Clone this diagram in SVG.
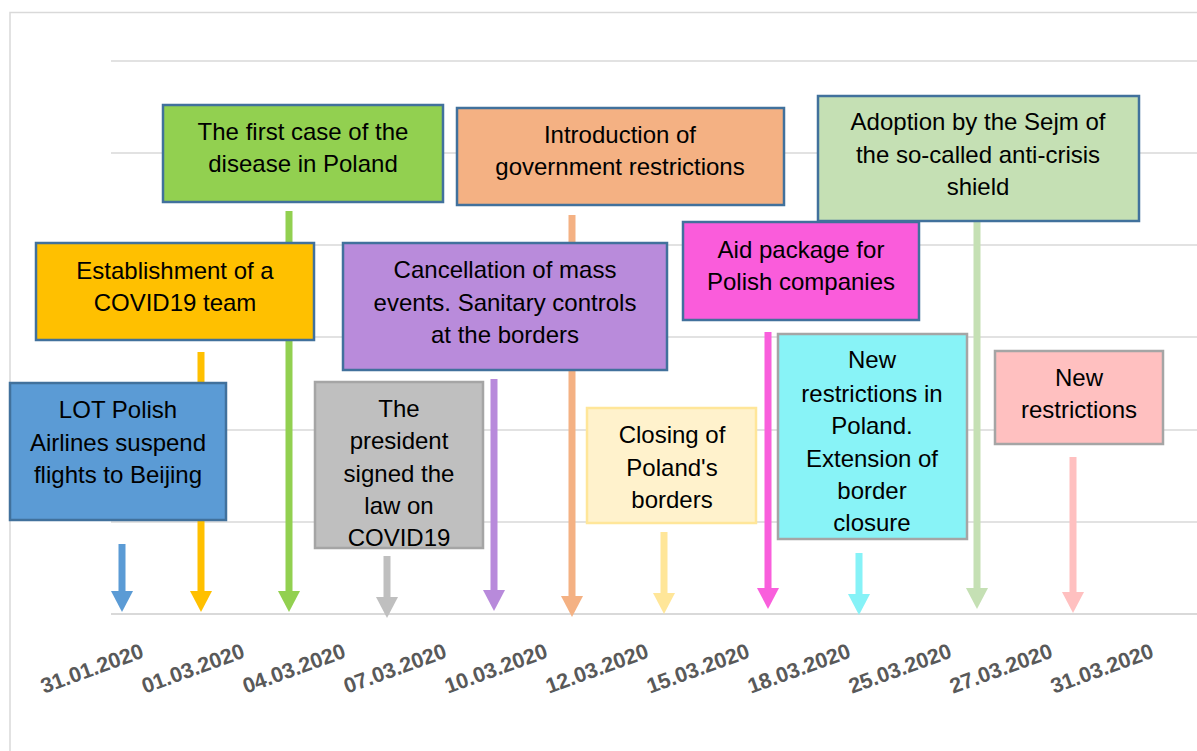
<svg xmlns="http://www.w3.org/2000/svg" width="1197" height="751" viewBox="0 0 1197 751">
<style>
.grid{stroke:#D9D9D9;stroke-width:1.5;fill:none}
.box{stroke:#41719C;stroke-width:2.5}
.gbox{stroke:#A5A5A5;stroke-width:2.5}
.t{font-family:"Liberation Sans",Arial,sans-serif;font-size:24px;fill:#000;text-anchor:middle}
.lbl{font-family:"Liberation Sans",Arial,sans-serif;font-size:21.5px;font-weight:bold;fill:#595959;text-anchor:end}
</style>
<rect width="1197" height="751" fill="#fff"/>
<rect x="10" y="12.5" width="1300" height="800" class="grid"/>
<g id="gridlines">
<line x1="111" y1="61" x2="1197" y2="61" class="grid"/>
<line x1="111" y1="153" x2="1197" y2="153" class="grid"/>
<line x1="111" y1="245" x2="1197" y2="245" class="grid"/>
<line x1="111" y1="337" x2="1197" y2="337" class="grid"/>
<line x1="111" y1="430" x2="1197" y2="430" class="grid"/>
<line x1="111" y1="522" x2="1197" y2="522" class="grid"/>
<line x1="111" y1="614" x2="1197" y2="614" class="grid" style="stroke-width:2"/>
</g>
<g id="connectors">
<g fill="#5B9BD5"><rect x="118.5" y="544" width="7" height="48"/><polygon points="111,591 133,591 122,612"/></g>
<g fill="#FFC000"><rect x="197.5" y="352" width="7" height="240"/><polygon points="190,591 212,591 201,612"/></g>
<g fill="#92D050"><rect x="285.5" y="211" width="7" height="381"/><polygon points="278,591 300,591 289,612"/></g>
<g fill="#BFBFBF"><rect x="383.5" y="556" width="7" height="42"/><polygon points="376,597 398,597 387,618"/></g>
<g fill="#B88ADB"><rect x="490.5" y="379" width="7" height="212"/><polygon points="483,590 505,590 494,611"/></g>
<g fill="#F4B183"><rect x="568.5" y="215" width="7" height="382"/><polygon points="561,596 583,596 572,617"/></g>
<g fill="#FFE699"><rect x="660.5" y="532" width="7" height="62"/><polygon points="653,593 675,593 664,614"/></g>
<g fill="#F95FDC"><rect x="764.5" y="332" width="7" height="257"/><polygon points="757,588 779,588 768,609"/></g>
<g fill="#86F2F7"><rect x="855.5" y="553" width="7" height="42"/><polygon points="848,594 870,594 859,615"/></g>
<g fill="#C5E0B4"><rect x="973.5" y="221" width="7" height="368"/><polygon points="966,588 988,588 977,609"/></g>
<g fill="#FFC0C0"><rect x="1069.5" y="457" width="7" height="136"/><polygon points="1062,592 1084,592 1073,613"/></g>
</g>
<g id="n-lot"><rect x="10" y="383" width="216" height="137" fill="#5B9BD5" class="box"/>
<text class="t" x="118" y="418">LOT Polish</text><text class="t" x="118" y="451">Airlines suspend</text><text class="t" x="118" y="483">flights to Beijing</text></g>
<g id="n-team"><rect x="36" y="243" width="278" height="97" fill="#FFC000" class="box"/>
<text class="t" x="175" y="279">Establishment of a</text><text class="t" x="175" y="311">COVID19 team</text></g>
<g id="n-first"><rect x="163" y="105" width="280" height="97" fill="#92D050" class="box"/>
<text class="t" x="303" y="140">The first case of the</text><text class="t" x="303" y="172">disease in Poland</text></g>
<g id="n-president"><rect x="315" y="382" width="168" height="166" fill="#BFBFBF" class="gbox"/>
<text class="t" x="399" y="417">The</text><text class="t" x="399" y="449">president</text><text class="t" x="399" y="482">signed the</text><text class="t" x="399" y="514">law on</text><text class="t" x="399" y="546">COVID19</text></g>
<g id="n-mass"><rect x="343" y="243" width="324" height="127" fill="#B98BDB" class="box"/>
<text class="t" x="505" y="278">Cancellation of mass</text><text class="t" x="505" y="311">events. Sanitary controls</text><text class="t" x="505" y="343">at the borders</text></g>
<g id="n-gov"><rect x="457" y="108" width="327" height="97" fill="#F4B183" class="box"/>
<text class="t" x="620" y="143">Introduction of</text><text class="t" x="620" y="175">government restrictions</text></g>
<g id="n-closing"><rect x="587" y="408" width="169" height="115" fill="#FFF2CC" stroke="#FFE699" stroke-width="2.5"/>
<text class="t" x="672" y="443">Closing of</text><text class="t" x="672" y="476">Poland's</text><text class="t" x="672" y="508">borders</text></g>
<g id="n-aid"><rect x="683" y="222" width="236" height="98" fill="#FA5CDB" class="box"/>
<text class="t" x="801" y="258">Aid package for</text><text class="t" x="801" y="290">Polish companies</text></g>
<g id="n-newpl"><rect x="778" y="334" width="189" height="205" fill="#88F3F7" class="gbox"/>
<text class="t" x="872" y="368">New</text><text class="t" x="872" y="402">restrictions in</text><text class="t" x="872" y="434">Poland.</text><text class="t" x="872" y="467">Extension of</text><text class="t" x="872" y="499">border</text><text class="t" x="872" y="531">closure</text></g>
<g id="n-shield"><rect x="818" y="96" width="321" height="125" fill="#C5E0B4" class="box"/>
<text class="t" x="978" y="130">Adoption by the Sejm of</text><text class="t" x="978" y="163">the so-called anti-crisis</text><text class="t" x="978" y="195">shield</text></g>
<g id="n-new"><rect x="995" y="351" width="168" height="93" fill="#FFC0C0" class="gbox"/>
<text class="t" x="1079" y="386">New</text><text class="t" x="1079" y="418">restrictions</text></g>
<g id="axis-labels">
<text class="lbl" transform="translate(145,657) rotate(-20)">31.01.2020</text>
<text class="lbl" transform="translate(246,657) rotate(-20)">01.03.2020</text>
<text class="lbl" transform="translate(347,657) rotate(-20)">04.03.2020</text>
<text class="lbl" transform="translate(448,657) rotate(-20)">07.03.2020</text>
<text class="lbl" transform="translate(549,657) rotate(-20)">10.03.2020</text>
<text class="lbl" transform="translate(650,657) rotate(-20)">12.03.2020</text>
<text class="lbl" transform="translate(751,657) rotate(-20)">15.03.2020</text>
<text class="lbl" transform="translate(852,657) rotate(-20)">18.03.2020</text>
<text class="lbl" transform="translate(953,657) rotate(-20)">25.03.2020</text>
<text class="lbl" transform="translate(1054,657) rotate(-20)">27.03.2020</text>
<text class="lbl" transform="translate(1155,657) rotate(-20)">31.03.2020</text>
</g>
</svg>
